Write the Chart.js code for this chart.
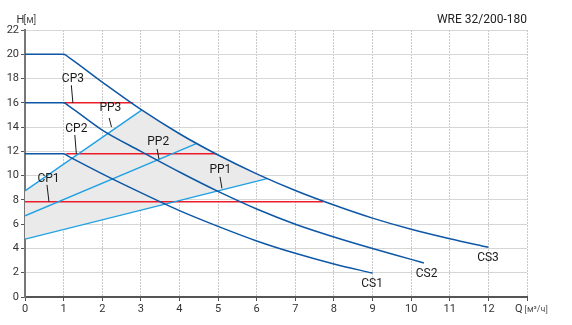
<!DOCTYPE html>
<html>
<head>
<meta charset="utf-8">
<script src="https://cdn.jsdelivr.net/npm/chart.js@4/dist/chart.umd.min.js"></script>
<style>
  html, body { margin: 0; padding: 0; background: #fff; }
  #wrap { width: 572px; height: 325px; position: relative; }
</style>
</head>
<body>
<div id="wrap"><canvas id="c" width="572" height="325"></canvas></div>
<script>
// Pump curves at constant speed: flow Q [m³/h] and head H [m]
const cs1Q = [0, 1, 1.15, 2, 3, 4, 5, 6, 7, 8, 9];
const cs1H = [11.8, 11.8, 11.55, 10.15, 8.6, 7.12, 5.82, 4.62, 3.6, 2.72, 1.97];
const cs2Q = [0, 1, 1.15, 2, 3, 4, 5, 6, 7, 8, 9, 10, 10.33];
const cs2H = [16, 16, 15.7, 13.75, 12.0, 10.3, 8.7, 7.25, 6.0, 4.95, 4.0, 3.1, 2.8];
const cs3Q = [0, 1, 1.15, 2, 3, 4, 5, 6, 7, 8, 9, 10, 11, 12];
const cs3H = [20, 20, 19.7, 17.7, 15.45, 13.45, 11.7, 10.15, 8.78, 7.58, 6.5, 5.58, 4.8, 4.1];

// Proportional-pressure lines PP1..PP3: head at zero flow and end point on CS3
const ppStartH = [4.77, 6.69, 8.75];
const ppEndQ = [6.27, 4.45, 3.02];
const ppEndH = [9.75, 12.65, 15.4];

// Constant-pressure lines CP1..CP3
const cpH = [7.85, 11.8, 16];
const cpFromQ = [0, 1.07, 1];
const cpToQ = [7.72, 4.96, 2.79];

// Axis ticks
const qTicks = [0, 1, 2, 3, 4, 5, 6, 7, 8, 9, 10, 11, 12];
const hTicks = [0, 2, 4, 6, 8, 10, 12, 14, 16, 18, 20, 22];

const DARK = '#0d57a6';
const LIGHT = '#1ea0e3';
const RED = '#ec1c2a';
const FONT = 'Roboto, "Liberation Sans", Arial, sans-serif';

const pts = (xs, ys) => xs.map((x, i) => ({ x, y: ys[i] }));

// Grey operating range bounded by PP1, CS3 and PP3
const rangeShape = [{ x: 0, y: ppStartH[0] }, { x: ppEndQ[0], y: ppEndH[0] }];
for (let i = cs3Q.length - 1; i >= 0; i--) {
  if (cs3Q[i] < ppEndQ[0] && cs3Q[i] > ppEndQ[2]) rangeShape.push({ x: cs3Q[i], y: cs3H[i] });
}
rangeShape.push({ x: ppEndQ[2], y: ppEndH[2] }, { x: 0, y: ppStartH[2] });

const datasets = [{
  data: rangeShape, showLine: true, fill: 'shape', backgroundColor: '#eaeaea',
  borderWidth: 0, borderColor: 'rgba(0,0,0,0)', pointRadius: 0, order: 10
}];
cpH.forEach((h, i) => datasets.push({
  data: [{ x: cpFromQ[i], y: h }, { x: cpToQ[i], y: h }],
  showLine: true, borderColor: RED, borderWidth: 1.4, pointRadius: 0, order: 5
}));
ppStartH.forEach((h, i) => datasets.push({
  data: [{ x: 0, y: h }, { x: ppEndQ[i], y: ppEndH[i] }],
  showLine: true, borderColor: LIGHT, borderWidth: 1.4, pointRadius: 0, order: 4
}));
[[cs1Q, cs1H], [cs2Q, cs2H], [cs3Q, cs3H]].forEach(([q, h]) => datasets.push({
  data: pts(q, h), showLine: true, borderColor: DARK, borderWidth: 1.5,
  pointRadius: 0, cubicInterpolationMode: 'monotone', order: 1
}));

// Curve labels with leader lines (data coordinates)
const labels = [
  { t: 'CP3', x: 1.24, y: 17.97, l: [1.20, 17.45, 1.24, 16.0] },
  { t: 'PP3', x: 2.21, y: 15.58, l: [2.18, 14.75, 2.24, 14.0] },
  { t: 'CP2', x: 1.33, y: 13.87, l: [1.29, 13.35, 1.33, 11.8] },
  { t: 'PP2', x: 3.45, y: 12.74, l: [3.42, 12.2, 3.47, 11.36] },
  { t: 'CP1', x: 0.61, y: 9.74, l: [0.57, 9.24, 0.62, 7.85] },
  { t: 'PP1', x: 5.06, y: 10.48, l: [5.05, 9.9, 5.10, 8.95] },
  { t: 'CS1', x: 8.99, y: 1.09 },
  { t: 'CS2', x: 10.4, y: 1.92 },
  { t: 'CS3', x: 11.99, y: 3.23 }
];

const annotate = {
  id: 'annotate',
  afterDatasetsDraw(chart) {
    const { ctx, scales: { x, y } } = chart;
    ctx.save();
    ctx.strokeStyle = '#1a1a1a';
    ctx.lineWidth = 1;
    ctx.fillStyle = '#1a1a1a';
    ctx.font = '12px ' + FONT;
    ctx.textAlign = 'center';
    ctx.textBaseline = 'middle';
    labels.forEach(lb => {
      if (lb.l) {
        ctx.beginPath();
        ctx.moveTo(x.getPixelForValue(lb.l[0]), y.getPixelForValue(lb.l[1]));
        ctx.lineTo(x.getPixelForValue(lb.l[2]), y.getPixelForValue(lb.l[3]));
        ctx.stroke();
      }
      ctx.fillText(lb.t, x.getPixelForValue(lb.x), y.getPixelForValue(lb.y));
    });
    // Axis titles and model name
    ctx.textAlign = 'left';
    ctx.fillStyle = '#333';
    ctx.font = '11px ' + FONT;
    ctx.fillText('H', 16.5, 20.5);
    ctx.fillStyle = '#555';
    ctx.font = '10px ' + FONT;
    ctx.fillText('[м]', 23.5, 20.5);
    const qx = x.getPixelForValue(13) - 12;
    ctx.fillStyle = '#333';
    ctx.font = '11px ' + FONT;
    ctx.fillText('Q', qx, 309.5);
    ctx.fillStyle = '#555';
    ctx.font = '9px ' + FONT;
    ctx.fillText('[м³/ч]', qx + 9.5, 309.5);
    ctx.textAlign = 'right';
    ctx.fillStyle = '#222';
    ctx.font = '12px ' + FONT;
    ctx.fillText('WRE 32/200-180', 527, 19.5);
    ctx.restore();
  }
};

new Chart(document.getElementById('c'), {
  type: 'scatter',
  data: { datasets },
  options: {
    responsive: false,
    animation: false,
    layout: { padding: { top: 30, right: 45, left: 0, bottom: 0 } },
    plugins: { legend: { display: false }, tooltip: { enabled: false }, title: { display: false } },
    scales: {
      x: {
        type: 'linear', min: 0, max: 13,
        afterBuildTicks: s => { s.ticks = qTicks.concat([13]).map(v => ({ value: v })); },
        afterFit: s => { s.height = 28; },
        ticks: {
          callback: v => (qTicks.includes(v) ? String(v) : ''),
          color: '#333', font: { family: FONT, size: 11 }, padding: 2, maxRotation: 0
        },
        grid: { color: '#c8c8c8', lineWidth: 1, tickColor: '#555', tickLength: 4 },
        border: { color: '#555', width: 2, dash: [2, 1] }
      },
      y: {
        type: 'linear', min: 0, max: 22,
        afterBuildTicks: s => { s.ticks = hTicks.map(v => ({ value: v })); },
        afterFit: s => { s.width = 25; },
        ticks: { color: '#333', font: { family: FONT, size: 11 }, padding: 2 },
        grid: { color: '#d6d6d6', lineWidth: 1, tickColor: '#555', tickLength: 4 },
        border: { color: '#777', width: 2 }
      }
    }
  },
  plugins: [annotate]
});
</script>
</body>
</html>
